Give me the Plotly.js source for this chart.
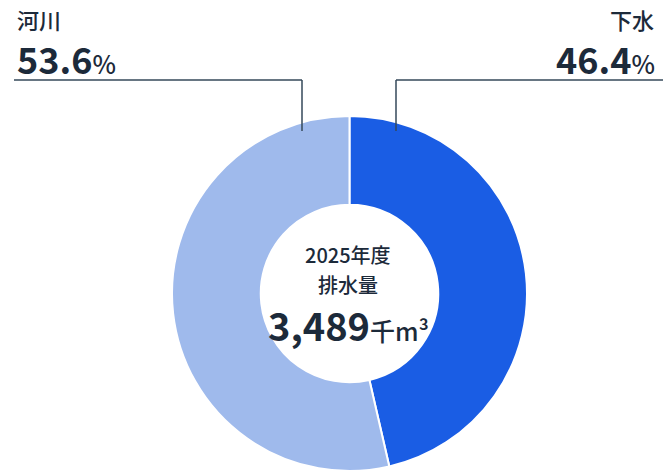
<!DOCTYPE html>
<html><head><meta charset="utf-8">
<script src="https://cdn.plot.ly/plotly-3.0.1.min.js"></script>
<style>html,body{margin:0;padding:0;background:#fff}#chart{width:671px;height:474px}</style>
</head><body><div id="chart"></div>
<script>
const labels = ['下水', '河川'];
const shares = [46.4, 53.6];
const colors = ['#1a5de4', '#9fbaec'];
const centerYear = '2025年度';
const centerLabel = '排水量';
const totalValue = '3,489';
const totalUnit = '千m³';

const W = 671, H = 474;
const px = x => x / W;
const py = y => 1 - y / H;
const font = '"Noto Sans CJK JP", "Noto Sans", sans-serif';
const ink = '#1c2a3a';

const trace = {
  type: 'pie', labels: labels, values: shares, sort: false,
  direction: 'clockwise', rotation: 0, hole: 0.5,
  marker: {colors: colors, line: {color: '#ffffff', width: 2}},
  textinfo: 'none', hoverinfo: 'label+percent',
  domain: {x: [px(172), px(527)], y: [py(471), py(116)]}
};

const pct = v => '<b>' + v.toFixed(1) + '</b><span style="font-size:25px">%</span>';
const ann = (x, y, anchor, text, size, weight) => ({
  xref: 'paper', yref: 'paper', x: px(x), y: py(y), xanchor: anchor, yanchor: 'middle',
  showarrow: false, borderpad: 0, text: text, font: {size: size, color: ink, weight: weight}
});

const layout = {
  width: W, height: H, margin: {l: 0, r: 0, t: 0, b: 0},
  paper_bgcolor: '#fff', showlegend: false,
  font: {family: font, color: ink},
  annotations: [
    ann(16, 19, 'left', labels[1], 22, 500),
    ann(16, 58, 'left', pct(shares[1]), 36, 500),
    ann(655, 19, 'right', labels[0], 22, 500),
    ann(656, 58, 'right', pct(shares[0]), 36, 500),
    ann(348, 254, 'center', centerYear, 20, 500),
    ann(348, 284, 'center', centerLabel, 20, 500),
    ann(348, 324, 'center', '<b>' + totalValue + '</b><span style="font-size:25px">' + totalUnit + '</span>', 38, 500)
  ],
  shapes: [
    {type: 'line', xref: 'paper', yref: 'paper', x0: px(14), x1: px(302), y0: py(80), y1: py(80), line: {color: '#34495a', width: 1.5}},
    {type: 'line', xref: 'paper', yref: 'paper', x0: px(302), x1: px(302), y0: py(80), y1: py(131), line: {color: '#34495a', width: 1.5}},
    {type: 'line', xref: 'paper', yref: 'paper', x0: px(396), x1: px(663), y0: py(80), y1: py(80), line: {color: '#34495a', width: 1.5}},
    {type: 'line', xref: 'paper', yref: 'paper', x0: px(396), x1: px(396), y0: py(80), y1: py(131), line: {color: '#34495a', width: 1.5}}
  ]
};
Plotly.newPlot('chart', [trace], layout, {displayModeBar: false, staticPlot: true});
</script></body></html>
